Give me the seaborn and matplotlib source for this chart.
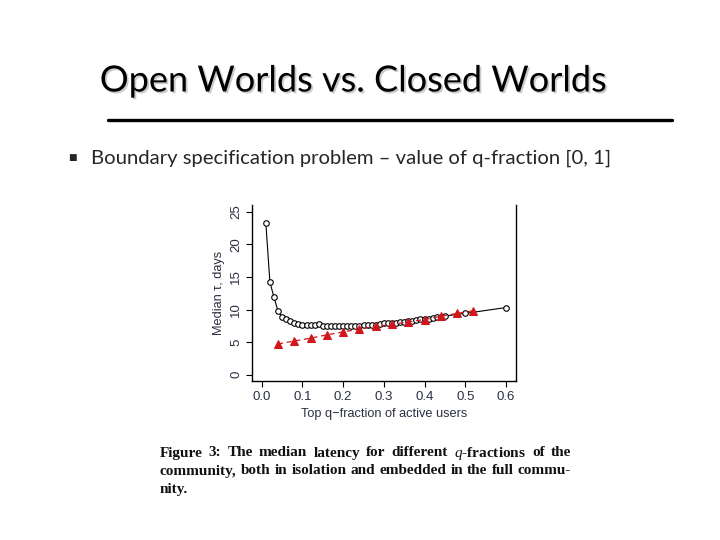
import matplotlib
matplotlib.use("Agg")
import matplotlib.pyplot as plt
import matplotlib.patheffects as pe
import seaborn as sns

# isolated community: median latency per top q-fraction
q_iso = [0.01, 0.02, 0.03, 0.04, 0.05, 0.06, 0.07, 0.08, 0.09, 0.10,
         0.11, 0.12, 0.13, 0.14, 0.15, 0.16, 0.17, 0.18, 0.19, 0.20,
         0.21, 0.22, 0.23, 0.24, 0.25, 0.26, 0.27, 0.28, 0.29, 0.30,
         0.31, 0.32, 0.33, 0.34, 0.35, 0.36, 0.37, 0.38, 0.39, 0.40,
         0.41, 0.42, 0.43, 0.44, 0.45, 0.50, 0.60]
tau_iso = [23.3, 14.2, 11.9, 9.7, 8.9, 8.6, 8.2, 7.9, 7.7, 7.6,
           7.6, 7.6, 7.6, 7.7, 7.5, 7.5, 7.4, 7.4, 7.4, 7.4,
           7.4, 7.5, 7.5, 7.5, 7.6, 7.6, 7.6, 7.6, 7.7, 7.9,
           8.0, 8.0, 8.0, 8.1, 8.1, 8.2, 8.3, 8.4, 8.5, 8.6,
           8.6, 8.7, 8.8, 8.9, 9.0, 9.4, 10.3]

# embedded in the full community
q_emb = [0.04, 0.08, 0.12, 0.16, 0.20, 0.24, 0.28, 0.32, 0.36, 0.40, 0.44, 0.48, 0.52]
tau_emb = [4.7, 5.15, 5.6, 6.1, 6.55, 7.0, 7.4, 7.7, 8.1, 8.45, 8.95, 9.4, 9.8]

x_ticks = [0.0, 0.1, 0.2, 0.3, 0.4, 0.5, 0.6]
y_ticks = [0, 5, 10, 15, 20, 25]

sns.set_theme(style="ticks")
plt.rcParams["font.family"] = ["Liberation Sans", "DejaVu Sans"]
plt.rcParams["mathtext.fontset"] = "custom"
plt.rcParams["mathtext.it"] = "Liberation Serif:italic"
plt.rcParams["mathtext.rm"] = "Liberation Serif"

W, H = 720, 540
fig = plt.figure(figsize=(7.2, 5.4), dpi=100)
fig.patch.set_facecolor("white")


def px(x, y):
    return x / W, 1 - y / H


# slide title with soft shadow
fig.text(*px(353, 81), "Open Worlds vs. Closed Worlds", family=["Lato", "DejaVu Sans"],
         fontsize=26, ha="center", va="center", color="black",
         path_effects=[pe.withSimplePatchShadow(offset=(1.3, -1.3), shadow_rgbFace="gray", alpha=0.4)])
fig.add_artist(plt.Line2D([108 / W, 672 / W], [1 - 120 / H, 1 - 120 / H], color="black", lw=2.4))

fig.text(*px(72, 158), "\u25a0", family="DejaVu Sans", fontsize=6.5, ha="center", va="center")
fig.text(*px(91, 158), "Boundary specification problem \u2013 value of q-fraction [0, 1]",
         family=["Lato", "DejaVu Sans"], fontsize=14.6, ha="left", va="center")

# the embedded figure
ax = fig.add_axes([252 / W, 1 - 381 / H, (515.7 - 252) / W, (381 - 205.5) / H])
ink = "#2b3042"
sns.lineplot(x=q_iso, y=tau_iso, ax=ax, color="black", lw=0.8, marker="o", markersize=4,
             markerfacecolor="white", markeredgecolor="black", markeredgewidth=0.8, zorder=3)
sns.lineplot(x=q_emb, y=tau_emb, ax=ax, color="#d2161b", lw=0.9, linestyle=(0, (4, 3)),
             marker="^", markersize=6, markerfacecolor="#d2161b", markeredgecolor="#d2161b", zorder=4)

ax.set_xlim(-0.024, 0.624)
ax.set_ylim(-1, 26)
ax.set_xticks(x_ticks)
ax.set_xticklabels([f"{t:.1f}" for t in x_ticks])
ax.set_yticks(y_ticks)
ax.set_yticklabels([str(t) for t in y_ticks], rotation=90, va="center")
ax.tick_params(axis="both", labelsize=9.5, colors=ink, length=4, width=0.8, pad=3)
ax.tick_params(axis="both", color="black")
for s in ["left", "bottom", "right"]:
    ax.spines[s].set_color("black")
    ax.spines[s].set_linewidth(1.0)
ax.spines["top"].set_visible(False)
ax.set_xlabel("Top q\u2212fraction of active users", fontsize=9.2, color=ink, labelpad=4)
ax.set_ylabel("Median \u03c4, days", fontsize=9.2, color=ink, labelpad=4)
ax.grid(False)

# caption, justified between x=160 and x=571
cap = ["Figure 3:  The median latency for different $q$-fractions of the",
       "community, both in isolation and embedded in the full commu-",
       "nity."]
renderer = fig.canvas.get_renderer()
left, right = 160, 571
for i, line in enumerate(cap):
    y = 453 + 18 * i
    words = line.split()
    if i == len(cap) - 1:
        fig.text(*px(left, y), line, family="Liberation Serif", fontweight="bold",
                 fontsize=11.0, ha="left", va="center", color="#111111")
        continue
    items = []
    for w in words:
        t = fig.text(*px(left, y), w, family="Liberation Serif", fontweight="bold",
                     fontsize=11.0, ha="left", va="center", color="#111111")
        items.append((t, t.get_window_extent(renderer).width))
    gap = (right - left - sum(wd for _, wd in items)) / (len(items) - 1)
    xpos = left
    for t, wd in items:
        t.set_x(xpos / W)
        xpos += wd + gap

fig.savefig("out.png", dpi=100, facecolor="white")
